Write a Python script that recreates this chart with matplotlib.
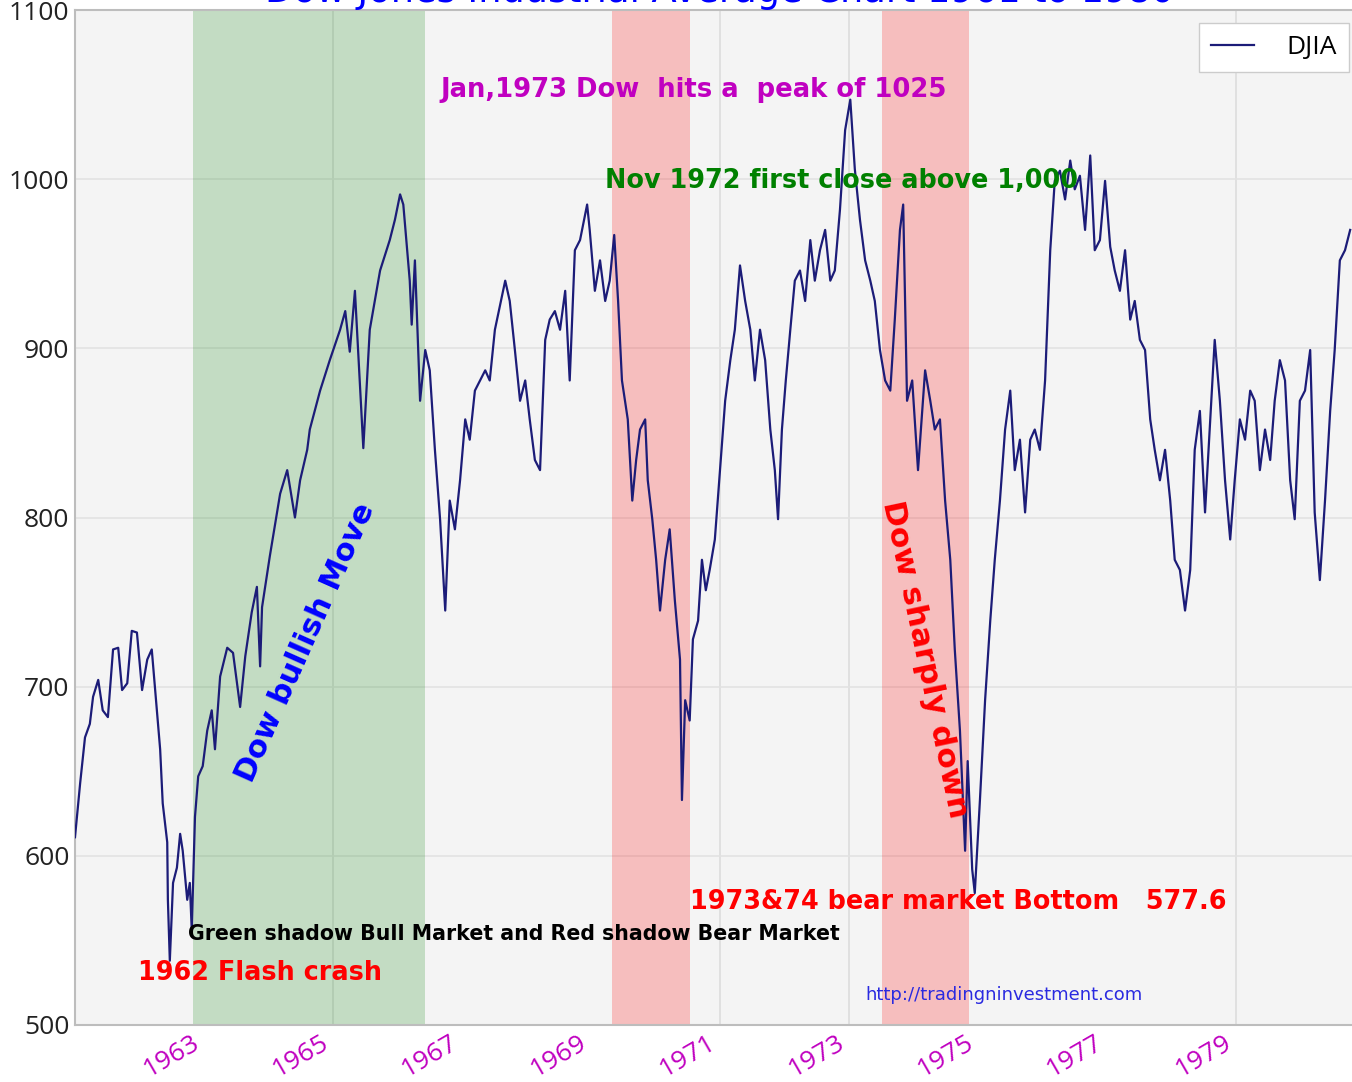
import matplotlib
matplotlib.use("Agg")
import matplotlib.pyplot as plt
from matplotlib.ticker import FixedLocator, FixedFormatter

# ---- data (decimal year, DJIA close) ----
years = [
    1961.00, 1961.08, 1961.155, 1961.23, 1961.28, 1961.36, 1961.43, 1961.51, 1961.59, 1961.67,
    1961.73, 1961.81, 1961.88, 1961.96, 1962.04, 1962.12, 1962.19, 1962.27, 1962.32, 1962.36,
    1962.43, 1962.44, 1962.47, 1962.52, 1962.58, 1962.63, 1962.67, 1962.74, 1962.78, 1962.81,
    1962.86, 1962.91, 1962.98, 1963.05, 1963.12, 1963.17, 1963.25, 1963.36, 1963.45, 1963.56,
    1963.64, 1963.74, 1963.82, 1963.87, 1963.90, 1964.02, 1964.18, 1964.29, 1964.41, 1964.49,
    1964.60, 1964.64, 1964.80, 1964.95, 1965.11, 1965.19, 1965.26, 1965.34, 1965.47, 1965.57,
    1965.73, 1965.88, 1965.96, 1966.04, 1966.09, 1966.19, 1966.22, 1966.27, 1966.35, 1966.43,
    1966.50, 1966.58, 1966.66, 1966.74, 1966.81, 1966.89, 1966.97, 1967.05, 1967.12, 1967.20,
    1967.36, 1967.43, 1967.51, 1967.67, 1967.74, 1967.82, 1967.90, 1967.98, 1968.05, 1968.13,
    1968.21, 1968.29, 1968.36, 1968.44, 1968.52, 1968.60, 1968.67, 1968.75, 1968.83, 1968.94,
    1968.98, 1969.06, 1969.14, 1969.22, 1969.29, 1969.36, 1969.42, 1969.48, 1969.57, 1969.64,
    1969.70, 1969.76, 1969.84, 1969.88, 1969.95, 1970.01, 1970.07, 1970.15, 1970.22, 1970.30,
    1970.38, 1970.41, 1970.46, 1970.53, 1970.58, 1970.66, 1970.72, 1970.78, 1970.84, 1970.92,
    1971.00, 1971.08, 1971.16, 1971.23, 1971.31, 1971.39, 1971.47, 1971.54, 1971.62, 1971.70,
    1971.78, 1971.85, 1971.90, 1971.96, 1972.02, 1972.09, 1972.16, 1972.24, 1972.32, 1972.40,
    1972.47, 1972.55, 1972.63, 1972.71, 1972.78, 1972.86, 1972.94, 1973.02, 1973.09, 1973.17,
    1973.25, 1973.33, 1973.40, 1973.48, 1973.56, 1973.64, 1973.71, 1973.79, 1973.84, 1973.90,
    1973.98, 1974.07, 1974.18, 1974.26, 1974.33, 1974.41, 1974.49, 1974.57, 1974.64, 1974.72,
    1974.80, 1974.84, 1974.91, 1974.95, 1975.03, 1975.11, 1975.19, 1975.26, 1975.34, 1975.42,
    1975.50, 1975.57, 1975.65, 1975.73, 1975.81, 1975.88, 1975.96, 1976.04, 1976.12, 1976.19,
    1976.27, 1976.35, 1976.43, 1976.50, 1976.58, 1976.66, 1976.74, 1976.81, 1976.89, 1976.97,
    1977.05, 1977.12, 1977.20, 1977.28, 1977.36, 1977.43, 1977.51, 1977.59, 1977.67, 1977.74,
    1977.82, 1977.90, 1977.98, 1978.05, 1978.13, 1978.21, 1978.29, 1978.36, 1978.44, 1978.52,
    1978.60, 1978.67, 1978.75, 1978.83, 1978.91, 1978.98, 1979.06, 1979.14, 1979.22, 1979.29,
    1979.37, 1979.45, 1979.53, 1979.60, 1979.68, 1979.76, 1979.84, 1979.91, 1979.99, 1980.07,
    1980.15, 1980.22, 1980.30, 1980.38, 1980.46, 1980.53, 1980.61, 1980.69, 1980.77,
]
djia = [
    611, 643, 670, 678, 694, 704, 686, 682, 722, 723,
    698, 702, 733, 732, 698, 716, 722, 686, 663, 631,
    608, 574, 538, 584, 593, 613, 603, 574, 584, 556,
    623, 647, 653, 674, 686, 663, 706, 723, 720, 688,
    718, 744, 759, 712, 747, 777, 814, 828, 800, 822,
    840, 852, 875, 893, 911, 922, 898, 934, 841, 911,
    946, 964, 976, 991, 985, 940, 914, 952, 869, 899,
    887, 840, 799, 745, 810, 793, 822, 858, 846, 875,
    887, 881, 911, 940, 928, 899, 869, 881, 858, 834,
    828, 905, 917, 922, 911, 934, 881, 958, 964, 985,
    970, 934, 952, 928, 940, 967, 928, 881, 858, 810,
    834, 852, 858, 822, 799, 775, 745, 775, 793, 751,
    716, 633, 692, 680, 728, 739, 775, 757, 769, 787,
    828, 869, 893, 911, 949, 928, 911, 881, 911, 893,
    852, 828, 799, 852, 881, 911, 940, 946, 928, 964,
    940, 958, 970, 940, 946, 982, 1029, 1047, 1006, 976,
    952, 940, 928, 899, 881, 875, 917, 970, 985, 869,
    881, 828, 887, 869, 852, 858, 810, 775, 722, 674,
    603, 656, 592, 578, 633, 692, 739, 775, 810, 852,
    875, 828, 846, 803, 846, 852, 840, 881, 958, 999,
    1005, 988, 1011, 994, 1002, 970, 1014, 958, 964, 999,
    960, 946, 934, 958, 917, 928, 905, 899, 858, 840,
    822, 840, 810, 775, 769, 745, 769, 840, 863, 803,
    858, 905, 869, 822, 787, 822, 858, 846, 875, 869,
    828, 852, 834, 869, 893, 881, 822, 799, 869, 875,
    899, 803, 763, 810, 863, 899, 952, 958, 970,
]

bull_spans = [(1962.83, 1966.43)]
bear_spans = [(1969.33, 1970.53), (1973.51, 1974.86)]
grid_years = [1965, 1971, 1973, 1979]
tick_years = [1963, 1965, 1967, 1969, 1971, 1973, 1975, 1977, 1979]
tick_labels = [str(y) for y in tick_years]
y_ticks = [500, 600, 700, 800, 900, 1000, 1100]

# ---- figure ----
W, H = 1352, 1082
fig = plt.figure(figsize=(W / 100, H / 100), dpi=100)
left_px, right_px, top_px, bot_px = 75, 1362, 10, 1025
ax = fig.add_axes([left_px / W, 1 - bot_px / H, (right_px - left_px) / W, (bot_px - top_px) / H])
ax.set_facecolor("#f4f4f4")

for a, b in bull_spans:
    ax.axvspan(a, b, color="green", alpha=0.2, lw=0, zorder=1)
for a, b in bear_spans:
    ax.axvspan(a, b, color="red", alpha=0.22, lw=0, zorder=1)

for gy in grid_years:
    ax.axvline(gy, color="#dcdcdc", lw=1.2, zorder=0.5)
ax.yaxis.grid(True, color="#e2e2e2", lw=1.2, zorder=0.5)
ax.set_axisbelow(True)

ax.plot(years, djia, color="#1c1c78", lw=1.6, label="DJIA", zorder=3)

ax.set_xlim(1961.0, 1961.0 + (right_px - left_px) / 64.5)
ax.set_ylim(500, 1100)

ax.xaxis.set_major_locator(FixedLocator(tick_years))
ax.xaxis.set_major_formatter(FixedFormatter(tick_labels))
ax.yaxis.set_major_locator(FixedLocator(y_ticks))
ax.tick_params(axis="both", length=0, pad=4)
for lab in ax.get_xticklabels():
    lab.set_rotation(30)
    lab.set_ha("right")
    lab.set_color("#c000c0")
    lab.set_fontsize(19)
    lab.set_fontfamily("Open Sans")
for lab in ax.get_yticklabels():
    lab.set_fontsize(19)
    lab.set_fontfamily("Open Sans")
    lab.set_color("#222222")

for s in ax.spines.values():
    s.set_color("#bdbdbd")
    s.set_linewidth(1.5)

ax.set_title("Dow Jones Industrial Average Chart 1961 to 1980", color="#0000ff",
             fontsize=26.5, pad=2, x=(720 - left_px) / (right_px - left_px))

leg = ax.legend(loc="upper right", prop={"family": "Open Sans", "size": 19},
                frameon=True, fancybox=False, borderpad=0.45, handlelength=1.6,
                handletextpad=1.25, borderaxespad=0.5)
leg.get_frame().set_edgecolor("#cccccc")
leg.get_frame().set_facecolor("white")
leg.get_frame().set_alpha(1.0)

bold = dict(fontweight="bold", family="DejaVu Sans", va="center", ha="left", zorder=5)
ax.text(1966.66, 1052.7, "Jan,1973 Dow  hits a  peak of 1025", color="#c000c0", fontsize=18.6, **bold)
ax.text(1969.22, 999, "Nov 1972 first close above 1,000", color="#008000", fontsize=18.4, **bold)
ax.text(1962.75, 554, "Green shadow Bull Market and Red shadow Bear Market", color="black", fontsize=14.8, **bold)
ax.text(1961.98, 531, "1962 Flash crash", color="red", fontsize=18.4, **bold)
ax.text(1970.53, 573, "1973&74 bear market Bottom   577.6", color="red", fontsize=18.4, **bold)
ax.text(1964.57, 726, "Dow bullish Move", color="#0000ff", fontsize=22, rotation=66,
        fontweight="bold", ha="center", va="center", rotation_mode="anchor", zorder=5)
ax.text(1974.18, 716, "Dow sharply down", color="red", fontsize=22.5, rotation=-78,
        fontweight="bold", ha="center", va="center", rotation_mode="anchor", zorder=5)
ax.text(1973.25, 518, "http://tradingninvestment.com", color="#2a2ae0", fontsize=13,
        va="center", ha="left", zorder=5)

fig.savefig("out.png", dpi=100)
